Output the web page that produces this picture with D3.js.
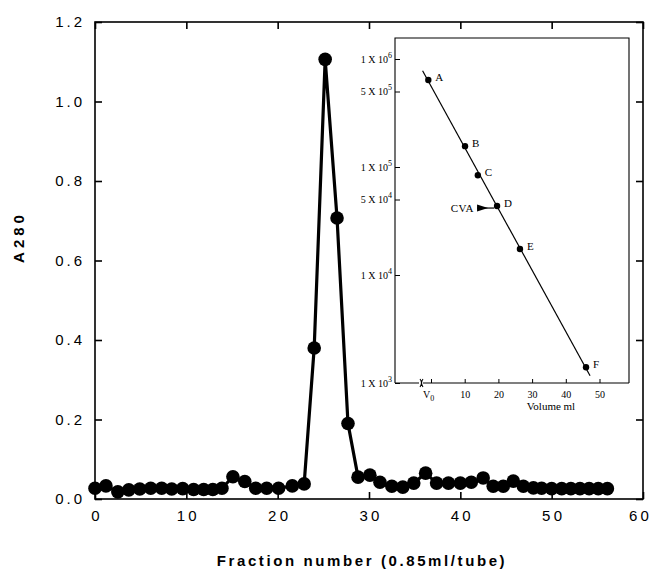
<!DOCTYPE html>
<html>
<head>
<meta charset="utf-8">
<script src="https://cdn.jsdelivr.net/npm/d3@7"></script>
<style>
  body { margin: 0; background: #fff; }
  .main text { font-family: "Liberation Sans", Arial, sans-serif; }
  .inset text { font-family: "Liberation Serif", "DejaVu Serif", serif; }
</style>
</head>
<body>
<svg id="svg1" width="655" height="573"></svg>
<script>
// main elution profile
var fraction = [0, 1.2, 2.5, 3.7, 4.9, 6.1, 7.3, 8.4, 9.6, 10.8, 11.9, 12.9, 13.9, 15.1, 16.4, 17.6, 18.8, 20.1, 21.6, 22.9,
  24.0, 25.2, 26.5, 27.7,
  28.8, 30.1, 31.2, 32.5, 33.7, 34.9, 36.2, 37.4, 38.7, 40.0, 41.2, 42.5, 43.6, 44.7, 45.8, 46.9, 48.0, 48.9, 50.0, 51.1, 52.1, 53.1, 54.1, 55.1, 56.1];
var a280 = [0.027, 0.033, 0.018, 0.023, 0.025, 0.027, 0.027, 0.025, 0.026, 0.024, 0.024, 0.024, 0.027, 0.056, 0.044, 0.027, 0.027, 0.027, 0.033, 0.038,
  0.38, 1.106, 0.707, 0.19,
  0.055, 0.06, 0.042, 0.032, 0.03, 0.04, 0.065, 0.04, 0.04, 0.04, 0.042, 0.053, 0.032, 0.032, 0.045, 0.032, 0.028, 0.027, 0.026, 0.026, 0.026, 0.026, 0.026, 0.026, 0.026];
var xTicks = [0, 10, 20, 30, 40, 50, 60];
var yTicks = [0, 0.2, 0.4, 0.6, 0.8, 1.0, 1.2];

// inset: calibration standards
var stdLabels = ["A", "B", "C", "D", "E", "F"];
var stdVolume = [-0.8, 10.1, 13.9, 19.6, 26.4, 46.0];
var stdMW = [6.4e5, 1.56e5, 8.4e4, 4.35e4, 1.74e4, 1.4e3];
var insetYTicks = [1e6, 5e5, 1e5, 5e4, 1e4, 1e3];
var insetXTicks = [0, 10, 20, 30, 40, 50];
var fitVolume = [-2.5, 47.2];

var svg = d3.select("#svg1");
svg.append("rect").attr("width", 655).attr("height", 573).attr("fill", "#fff");

var x = d3.scaleLinear().domain([0, 60]).range([95, 643]);
var y = d3.scaleLinear().domain([0, 1.2]).range([499, 22]);

var main = svg.append("g").attr("class", "main");

// frame
main.append("rect")
    .attr("x", x(0)).attr("y", y(1.2))
    .attr("width", x(60) - x(0)).attr("height", y(0) - y(1.2))
    .attr("fill", "none").attr("stroke", "#000").attr("stroke-width", 1.6);

var fmt = d3.format(".1f");

var gx = main.append("g")
    .attr("transform", "translate(0," + y(0) + ")")
    .call(d3.axisBottom(x).tickValues(xTicks).tickSize(-7).tickPadding(11).tickFormat(d3.format("d")));
var gy = main.append("g")
    .attr("transform", "translate(" + x(0) + ",0)")
    .call(d3.axisLeft(y).tickValues(yTicks).tickSize(-7).tickPadding(10).tickFormat(fmt));
main.append("g")
    .attr("transform", "translate(0," + y(1.2) + ")")
    .call(d3.axisTop(x).tickValues(xTicks).tickSize(-7).tickFormat(""));
main.append("g")
    .attr("transform", "translate(" + x(60) + ",0)")
    .call(d3.axisRight(y).tickValues(yTicks).tickSize(-7).tickFormat(""));

main.selectAll(".domain").remove();
main.selectAll(".tick line").attr("stroke", "#000").attr("stroke-width", 1.6);
gx.selectAll("text")
    .attr("font-size", 15).attr("letter-spacing", 3.2)
    .attr("dx", function(d) { return d === 60 ? -3 : 1.5; })
    .attr("fill", "#000");
gy.selectAll("text").attr("font-size", 15).attr("letter-spacing", 3).attr("fill", "#000");

var line = d3.line()
    .x(function(d, i) { return x(fraction[i]); })
    .y(function(d) { return y(d); });

main.append("path")
    .datum(a280)
    .attr("d", line)
    .attr("fill", "none")
    .attr("stroke", "#000")
    .attr("stroke-width", 3.2)
    .attr("stroke-linejoin", "round");

main.selectAll("circle.pt")
    .data(a280)
  .enter().append("circle")
    .attr("class", "pt")
    .attr("cx", function(d, i) { return x(fraction[i]); })
    .attr("cy", function(d) { return y(d); })
    .attr("r", 6.8)
    .attr("fill", "#000");

main.append("text")
    .attr("transform", "translate(24,237) rotate(-90)")
    .attr("text-anchor", "middle")
    .attr("font-size", 15).attr("font-weight", "bold").attr("letter-spacing", 4)
    .text("A280");

main.append("text")
    .attr("x", 362).attr("y", 566)
    .attr("text-anchor", "middle")
    .attr("font-size", 15).attr("font-weight", "bold").attr("letter-spacing", 2.6)
    .text("Fraction number (0.85ml/tube)");

// ---- inset ----
var ix = d3.scaleLinear().domain([0, 50]).range([431, 599.5]);
var iy = d3.scaleLog().domain([1e3, 1e6]).range([383, 59]);
var box = {x0: 395, x1: 629, y0: 38, y1: 383};

var inset = svg.append("g").attr("class", "inset");

inset.append("rect")
    .attr("x", box.x0).attr("y", box.y0)
    .attr("width", box.x1 - box.x0).attr("height", box.y1 - box.y0)
    .attr("fill", "#fff").attr("stroke", "none");

// top, right, left edges
inset.append("path")
    .attr("d", "M" + box.x0 + "," + box.y1 + "V" + box.y0 + "H" + box.x1 + "V" + box.y1)
    .attr("fill", "none").attr("stroke", "#000").attr("stroke-width", 1.1);
// bottom edge with break
inset.append("path")
    .attr("d", "M" + box.x0 + "," + box.y1 + "H419 M420,379 q3,4 0,8 M423,379 q-3,4 0,8 M423," + box.y1 + "H" + box.x1)
    .attr("fill", "none").attr("stroke", "#000").attr("stroke-width", 1.1);

var iyAxis = inset.append("g")
    .attr("transform", "translate(" + box.x0 + ",0)")
    .call(d3.axisLeft(iy).tickValues(insetYTicks).tickSize(-5).tickPadding(4).tickFormat(""));
iyAxis.selectAll(".tick").each(function(d) {
  var e = Math.floor(Math.log10(d) + 1e-9);
  var m = Math.round(d / Math.pow(10, e));
  var t = d3.select(this).append("text")
      .attr("x", -3).attr("y", 3)
      .attr("text-anchor", "end")
      .attr("font-size", 10)
      .attr("fill", "#000");
  t.append("tspan").text(m + " X 10");
  t.append("tspan").attr("dy", -5).attr("font-size", 8).text(e);
});

var ixAxis = inset.append("g")
    .attr("transform", "translate(0," + box.y1 + ")")
    .call(d3.axisBottom(ix).tickValues(insetXTicks).tickSize(-4).tickPadding(5).tickFormat(""));
ixAxis.selectAll(".tick").each(function(d) {
  var t = d3.select(this).append("text")
      .attr("y", 15)
      .attr("text-anchor", "middle")
      .attr("font-size", 10)
      .attr("fill", "#000");
  if (d === 0) {
    t.attr("dx", -3);
    t.append("tspan").text("V");
    t.append("tspan").attr("dy", 3).attr("font-size", 8).text("0");
  } else {
    t.text(d);
  }
});
inset.selectAll(".domain").remove();
inset.selectAll(".tick line").attr("stroke", "#000").attr("stroke-width", 1);

inset.append("text")
    .attr("x", 551).attr("y", 410)
    .attr("text-anchor", "middle")
    .attr("font-size", 11)
    .text("Volume ml");

// least squares fit of log MW vs volume
var n = stdVolume.length;
var mx = d3.mean(stdVolume);
var my = d3.mean(stdMW, function(d) { return Math.log10(d); });
var sxy = 0, sxx = 0;
for (var i = 0; i < n; i++) {
  sxy += (stdVolume[i] - mx) * (Math.log10(stdMW[i]) - my);
  sxx += (stdVolume[i] - mx) * (stdVolume[i] - mx);
}
var slope = sxy / sxx;
function fit(v) { return Math.pow(10, my + slope * (v - mx)); }

inset.append("line")
    .attr("x1", ix(fitVolume[0])).attr("y1", iy(fit(fitVolume[0])))
    .attr("x2", ix(fitVolume[1])).attr("y2", iy(fit(fitVolume[1])))
    .attr("stroke", "#000").attr("stroke-width", 1.2);

inset.selectAll("circle.std")
    .data(stdMW)
  .enter().append("circle")
    .attr("class", "std")
    .attr("cx", function(d, i) { return ix(stdVolume[i]); })
    .attr("cy", function(d) { return iy(d); })
    .attr("r", 3.2)
    .attr("fill", "#000");

inset.selectAll("text.lab")
    .data(stdLabels)
  .enter().append("text")
    .attr("class", "lab")
    .attr("x", function(d, i) { return ix(stdVolume[i]) + 7; })
    .attr("y", function(d, i) { return iy(stdMW[i]) + 1; })
    .attr("font-family", "Liberation Sans, Arial, sans-serif")
    .attr("font-size", 11)
    .attr("fill", "#000")
    .text(function(d) { return d; });

// CVA arrow pointing at D
var dx = ix(stdVolume[3]), dy = iy(stdMW[3]) + 2;
inset.append("path")
    .attr("d", "M" + (dx - 20) + "," + (dy - 3.5) + "L" + (dx - 9) + "," + dy + "L" + (dx - 20) + "," + (dy + 3.5) + "Z")
    .attr("fill", "#000");
inset.append("line")
    .attr("x1", dx - 20).attr("y1", dy).attr("x2", dx - 3).attr("y2", dy)
    .attr("stroke", "#000").attr("stroke-width", 1.2);
inset.append("text")
    .attr("x", dx - 23).attr("y", dy + 4)
    .attr("text-anchor", "end")
    .attr("font-family", "Liberation Sans, Arial, sans-serif")
    .attr("font-size", 11).attr("letter-spacing", 0.5)
    .attr("fill", "#000")
    .text("CVA");
</script>
</body>
</html>
